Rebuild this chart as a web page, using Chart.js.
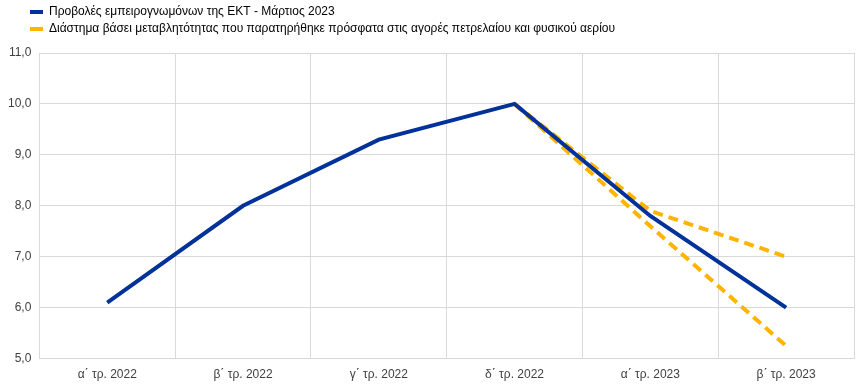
<!DOCTYPE html>
<html>
<head>
<meta charset="utf-8">
<script src="https://cdn.jsdelivr.net/npm/chart.js@4.4.1/dist/chart.umd.min.js"></script>
<style>
  html, body { margin: 0; padding: 0; background: #fff; }
  #wrap { width: 862px; height: 391px; position: relative; }
</style>
</head>
<body>
<div id="wrap"><canvas id="c"></canvas></div>
<script>
// δεδομένα
const quarters = ["α΄ τρ. 2022", "β΄ τρ. 2022", "γ΄ τρ. 2022", "δ΄ τρ. 2022", "α΄ τρ. 2023", "β΄ τρ. 2023"];
const projections = [6.1, 8.0, 9.3, 10.0, 7.8, 6.0];
const upperRange = [null, null, null, 10.0, 7.9, 7.0];
const lowerRange = [null, null, null, 10.0, 7.6, 5.25];
const seriesNames = [
  "Προβολές εμπειρογνωμόνων της ΕΚΤ - Μάρτιος 2023",
  "Διάστημα βάσει μεταβλητότητας που παρατηρήθηκε πρόσφατα στις αγορές πετρελαίου και φυσικού αερίου"
];

const blue = "#003299";
const yellow = "#ffb400";

Chart.defaults.font.family = "'Liberation Sans', Arial, sans-serif";
Chart.defaults.font.size = 12;
Chart.defaults.color = "#404040";

// μετακίνηση υπομνήματος προς τα δεξιά και λίγος χώρος κάτω από αυτό
const legendShift = {
  id: "legendShift",
  beforeInit(chart) {
    const fit = chart.legend.fit;
    chart.legend.fit = function () {
      fit.call(this);
      this.height += 8;
    };
  },
  afterUpdate(chart) {
    chart.legend.left += 25;
    chart.legend.right += 25;
  }
};

new Chart(document.getElementById("c"), {
  type: "line",
  data: {
    labels: quarters,
    datasets: [
      { label: seriesNames[0], data: projections, borderColor: blue, backgroundColor: blue,
        borderWidth: 4, pointRadius: 0, order: 0 },
      { label: seriesNames[1], data: upperRange, borderColor: yellow, backgroundColor: yellow,
        borderWidth: 4, borderDash: [10, 6], pointRadius: 0, order: 1 },
      { label: "lower", data: lowerRange, borderColor: yellow, backgroundColor: yellow,
        borderWidth: 4, borderDash: [10, 6], pointRadius: 0, order: 1 }
    ]
  },
  options: {
    responsive: true,
    maintainAspectRatio: false,
    animation: false,
    layout: { padding: { left: 0, right: 8, top: 1, bottom: 0 } },
    plugins: {
      tooltip: { enabled: false },
      legend: {
        position: "top",
        align: "start",
        maxWidth: 600,
        labels: {
          boxWidth: 13,
          boxHeight: 4,
          padding: 5,
          color: "#000",
          font: { size: 12 },
          generateLabels: chart => chart.data.datasets.slice(0, 2).map((ds, i) => ({
            text: ds.label, fillStyle: ds.borderColor, strokeStyle: ds.borderColor,
            lineWidth: 0, datasetIndex: i
          }))
        }
      }
    },
    scales: {
      x: {
        offset: true,
        grid: { offset: true, color: "#d9d9d9", lineWidth: 1, drawTicks: false },
        border: { color: "#d9d9d9" },
        ticks: { padding: 9, color: "#404040" }
      },
      y: {
        min: 5, max: 11,
        grid: { color: "#d9d9d9", lineWidth: 1, drawTicks: false },
        border: { color: "#d9d9d9" },
        ticks: {
          stepSize: 1, padding: 8, color: "#404040",
          callback: v => v.toFixed(1).replace(".", ",")
        }
      }
    }
  },
  plugins: [legendShift]
});
</script>
</body>
</html>
